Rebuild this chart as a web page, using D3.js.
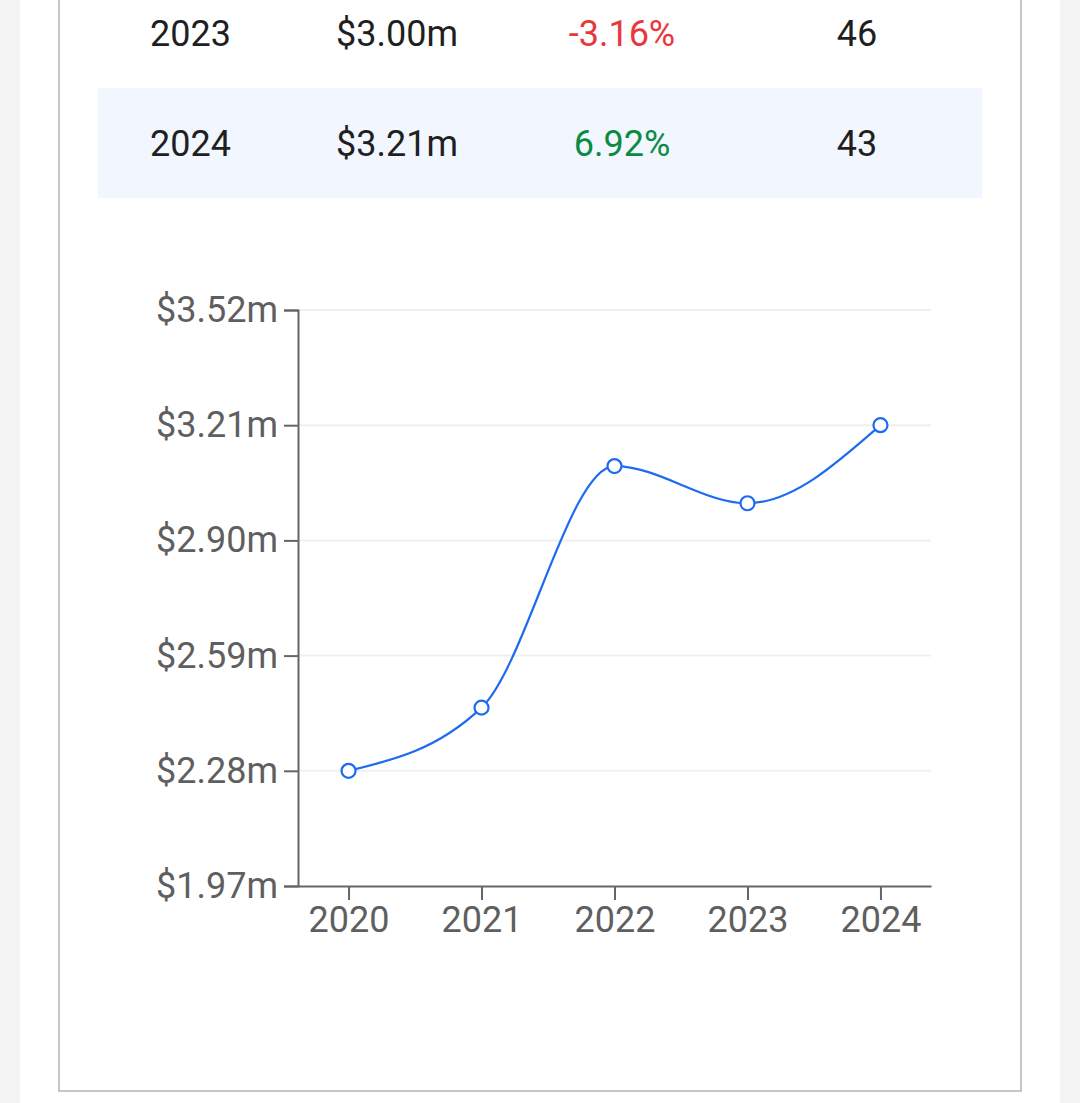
<!DOCTYPE html>
<html>
<head>
<meta charset="utf-8">
<script src="https://cdn.jsdelivr.net/npm/d3@7"></script>
<style>
  html, body { margin: 0; padding: 0; background: #f4f4f4; }
  svg { display: block; font-family: Roboto, "Open Sans", sans-serif; }
</style>
</head>
<body>
<svg id="chart" width="1080" height="1103"></svg>
<script>
"use strict"

// table rows
var tableYears = ["2023", "2024"];
var tableValues = ["$3.00m", "$3.21m"];
var tableChanges = [-3.16, 6.92];
var tableCounts = [46, 43];

// chart series
var years = ["2020", "2021", "2022", "2023", "2024"];
var values = [2.28, 2.45, 3.10, 3.00, 3.21];
var yTicks = [1.97, 2.28, 2.59, 2.90, 3.21, 3.52];

var svg = d3.select("#chart");

// page panel + card border
svg.append("rect")
    .attr("x", 20).attr("y", 0)
    .attr("width", 1040).attr("height", 1103)
    .attr("fill", "#ffffff");
svg.append("rect")
    .attr("x", 59).attr("y", -20)
    .attr("width", 962).attr("height", 1111)
    .attr("fill", "none")
    .attr("stroke", "#c6c6c6")
    .attr("stroke-width", 2);

// table
var rowHeight = 110;
var rows = svg.append("g").attr("class", "table")
    .selectAll("g")
    .data(tableYears)
    .enter()
    .append("g")
    .attr("transform", function (d, i) {
        return "translate(0," + (-22 + i * rowHeight) + ")";
    });

rows.append("rect")
    .attr("x", 98)
    .attr("width", 884)
    .attr("height", rowHeight)
    .attr("fill", function (d, i) {
        return i % 2 === 1 ? "#f2f6fe" : "none";
    });

var textY = rowHeight / 2;
rows.append("text")
    .attr("x", 150).attr("y", textY).attr("dy", "0.35em")
    .attr("fill", "#1f1f1f").style("font-size", "36px")
    .text(function (d) { return d; });
rows.append("text")
    .attr("x", 336).attr("y", textY).attr("dy", "0.35em")
    .attr("fill", "#1f1f1f").style("font-size", "36px")
    .text(function (d, i) { return tableValues[i]; });
rows.append("text")
    .attr("x", 622).attr("y", textY).attr("dy", "0.35em")
    .attr("text-anchor", "middle")
    .attr("fill", function (d, i) { return tableChanges[i] < 0 ? "#e8383d" : "#0b8a43"; })
    .style("font-size", "36px")
    .text(function (d, i) { return tableChanges[i].toFixed(2) + "%"; });
rows.append("text")
    .attr("x", 857).attr("y", textY).attr("dy", "0.35em")
    .attr("text-anchor", "middle")
    .attr("fill", "#1f1f1f").style("font-size", "36px")
    .text(function (d, i) { return tableCounts[i]; });

// chart area
var plotLeft = 298, plotRight = 931, plotTop = 310, plotBottom = 886;

var x = d3.scalePoint()
    .domain(years)
    .range([plotLeft, plotRight])
    .padding(0.38);

var y = d3.scaleLinear()
    .domain([yTicks[0], yTicks[yTicks.length - 1]])
    .range([plotBottom, plotTop]);

var chart = svg.append("g").attr("class", "chart");

// gridlines
chart.append("g")
    .selectAll("line")
    .data(yTicks.slice(1))
    .enter()
    .append("line")
    .attr("x1", plotLeft).attr("x2", plotRight)
    .attr("y1", function (d) { return y(d); })
    .attr("y2", function (d) { return y(d); })
    .attr("stroke", "#f0f0f0")
    .attr("stroke-width", 2);

var yAxis = chart.append("g")
    .attr("transform", "translate(" + plotLeft + ",0)")
    .call(d3.axisLeft(y)
        .tickValues(yTicks)
        .tickSize(14)
        .tickPadding(6)
        .tickFormat(function (d) { return "$" + d.toFixed(2) + "m"; }));

var xAxis = chart.append("g")
    .attr("transform", "translate(0," + plotBottom + ")")
    .call(d3.axisBottom(x)
        .tickSize(14)
        .tickSizeOuter(0)
        .tickPadding(6));

[yAxis, xAxis].forEach(function (ax) {
    ax.selectAll("path, line")
        .attr("stroke", "#666666")
        .attr("stroke-width", 2);
    ax.selectAll("text")
        .attr("fill", "#5f5f5f")
        .style("font-size", "36px")
        .style("font-family", "Roboto, 'Open Sans', sans-serif");
});

var line = d3.line()
    .x(function (d, i) { return x(years[i]); })
    .y(function (d) { return y(d); })
    .curve(d3.curveMonotoneX);

chart.append("path")
    .datum(values)
    .attr("class", "line")
    .attr("d", line)
    .attr("fill", "none")
    .attr("stroke", "#1f6bef")
    .attr("stroke-width", 2.2);

chart.selectAll("circle")
    .data(values)
    .enter()
    .append("circle")
    .attr("cx", function (d, i) { return x(years[i]); })
    .attr("cy", function (d) { return y(d); })
    .attr("r", 7)
    .attr("fill", "#ffffff")
    .attr("stroke", "#1f6bef")
    .attr("stroke-width", 2.2);
</script>
</body>
</html>
